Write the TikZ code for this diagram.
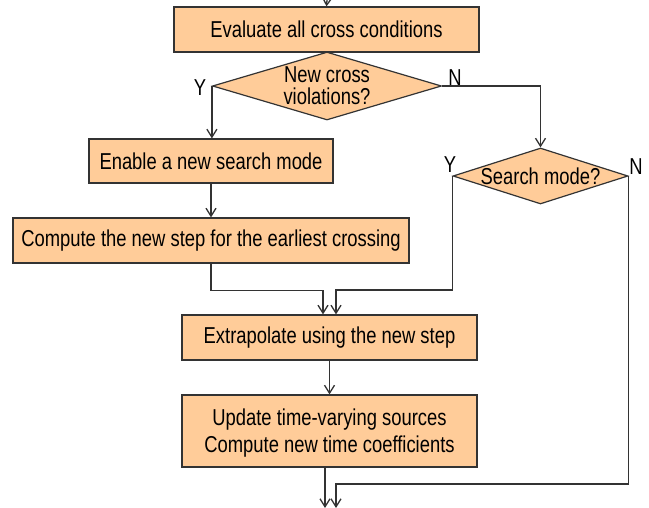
\documentclass[tikz,border=0pt]{standalone}
\usepackage{fontspec}
\setmainfont[FakeStretch=0.8]{Liberation Sans}
\usetikzlibrary{arrows.meta,shapes.geometric}

\definecolor{boxfill}{HTML}{FFCC99}
\definecolor{linegray}{HTML}{333333}

\begin{document}
\begin{tikzpicture}[x=1pt, y=-1pt,
  box/.style={draw=linegray, fill=boxfill, line width=1.2pt, inner sep=0pt},
  decision/.style={draw=linegray, fill=boxfill, diamond, line width=1.2pt, inner sep=0pt},
  txt/.style={font=\fontsize{23}{27}\selectfont, inner sep=0pt, align=center},
  flow/.style={draw=linegray, line width=1.3pt, -{Straight Barb[length=8pt, width=10pt]}},
  link/.style={draw=linegray, line width=1.3pt}]
  \useasboundingbox (0,0) rectangle (649,508);

  % 方框
  \node[box, minimum width=305, minimum height=45] (eval) at (326.5,29.5) {};
  \node[txt] (evaltxt) at (eval) {Evaluate all cross conditions};
  \node[box, minimum width=244, minimum height=44] (enable) at (211,161) {};
  \node[txt] (enabletxt) at (enable) {Enable a new search mode};
  \node[box, minimum width=396, minimum height=45] (compute) at (211,240.5) {};
  \node[txt] (computetxt) at (compute) {Compute the new step for the earliest crossing};
  \node[box, minimum width=295, minimum height=45] (extrap) at (329.5,337.5) {};
  \node[txt] (extraptxt) at (extrap) {Extrapolate using the new step};
  \node[box, minimum width=295, minimum height=72] (update) at (329.5,431) {};
  \node[txt, font=\fontsize{23}{27}\selectfont] (updatetxt) at (329.5,433)
    {Update time-varying sources\\Compute new time coefficients};

  % 判断
  \node[decision, minimum width=229, minimum height=68] (cross) at (327,86) {};
  \node[txt, font=\fontsize{23}{22}\selectfont] (crosstxt) at (327,86) {New cross\\violations?};
  \node[decision, minimum width=175, minimum height=56] (mode) at (540.5,176) {};
  \node[txt] (modetxt) at (mode) {Search mode?};

  % Y / N
  \node[txt] (crossY) at (200,88) {Y};
  \node[txt] (crossN) at (455,78) {N};
  \node[txt] (modeY) at (450,165) {Y};
  \node[txt] (modeN) at (636,167) {N};

  % 入口和出口
  \coordinate (entry) at (327,0);
  \coordinate (exitL) at (325,508);
  \coordinate (exitR) at (336,508);

  % 连线
  \draw[flow] (entry) -- (eval.north);
  \draw[flow] (cross.west) -- (cross.west |- enable.north);
  \draw[flow] (cross.east) -| (mode.north);
  \draw[flow] (enable) -- (compute);
  \draw[flow] (compute.south) -- ++(0,27) -| ([xshift=-6.5]extrap.north);
  \draw[flow] (mode.west) -- ++(0,114) -| ([xshift=6.5]extrap.north);
  \draw[flow] (extrap) -- (update);
  \draw[flow] ([xshift=-4.5]update.south) -- (exitL);
  \draw[flow] (mode.east) -- ++(0,308) -| (exitR);
\end{tikzpicture}
\end{document}
